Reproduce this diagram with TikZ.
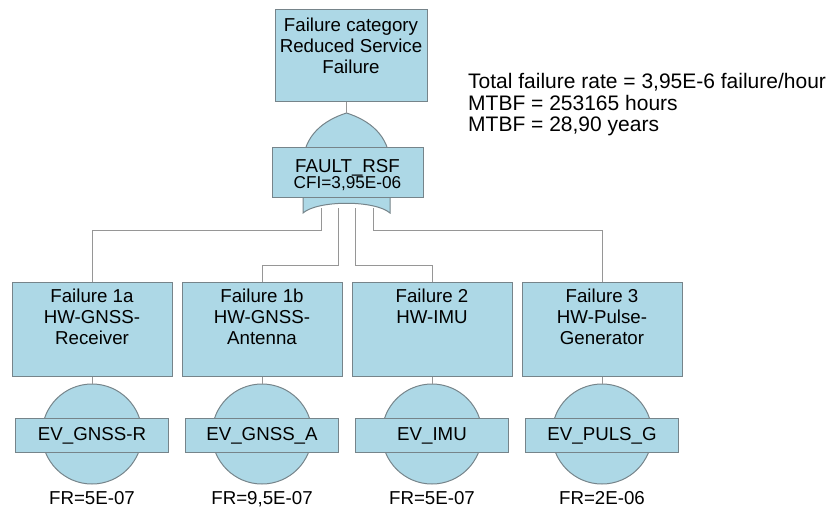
\documentclass[tikz,border=0pt]{standalone}
\usepackage{fontspec}
\setmainfont{Liberation Sans}
\usetikzlibrary{calc}
\definecolor{fillblue}{RGB}{173,216,230}
\definecolor{edgegray}{RGB}{118,132,138}
\definecolor{linegray}{RGB}{150,150,150}
\newcommand\fbtext{\fontsize{18.7pt}{21pt}\selectfont}
\newcommand\fctext{\fontsize{17.2pt}{18pt}\selectfont}
\newcommand\fttext{\fontsize{21pt}{21.4pt}\selectfont}
\begin{document}
\begin{tikzpicture}[x=1pt,y=-1pt,
  fbox/.style={draw=edgegray, fill=fillblue, line width=1pt, minimum width=160pt, minimum height=94pt, inner sep=0pt},
  btxt/.style={align=center, inner sep=0pt, font=\fbtext, anchor=north},
  evcirc/.style={circle, draw=edgegray, fill=fillblue, line width=1pt, minimum size=100pt, inner sep=0pt},
  evbox/.style={draw=edgegray, fill=fillblue, line width=1pt, minimum width=153pt, minimum height=34pt, inner sep=0pt, text height=13.4pt, text depth=3.4pt, font=\fbtext},
  frtxt/.style={inner sep=0pt, anchor=base, font=\fbtext},
  conn/.style={draw=linegray, line width=1pt},
  gatestyle/.style={draw=edgegray, fill=fillblue, line width=1pt}]
\useasboundingbox (0,0) rectangle (834,508);

% gate coordinates
\coordinate (gtop) at (346.5,113);
\coordinate (go1) at (321.7,208);
\coordinate (go2) at (338.3,208);
\coordinate (go3) at (355,208);
\coordinate (go4) at (373.3,208);
\coordinate (k1) at (92,230);
\coordinate (k2) at (262,265);
\coordinate (k3) at (432,265);
\coordinate (k4) at (602,230);

% failure boxes
\node[fbox] (f1a) at (92,329) {};
\node[fbox] (f1b) at (262,329) {};
\node[fbox] (f2) at (432,329) {};
\node[fbox] (f3) at (602,329) {};

% connectors from gate to boxes
\draw[conn] (go1) |- (k1) -- (f1a.north);
\draw[conn] (go2) |- (k2) -- (f1b.north);
\draw[conn] (go3) |- (k3) -- (f2.north);
\draw[conn] (go4) |- (k4) -- (f3.north);

% OR gate
\draw[gatestyle] (gtop) .. controls (324.5,120) and (303,135) .. (303,165) -- (303,213)
  .. controls (318,200) and (375,200) .. (390,213) -- (390,165)
  .. controls (390,135) and (368.5,120) .. (gtop) -- cycle;
\node[draw=edgegray, fill=fillblue, line width=1pt, minimum width=151pt, minimum height=50pt, inner sep=0pt] (rsf) at (347.5,172) {};
\node[inner sep=0pt, anchor=base, font=\fbtext] (rsfn) at (347.5,172.7) {FAULT\_RSF};
\node[inner sep=0pt, anchor=base, font=\fctext] (rsfc) at (347.5,188.5) {CFI=3,95E-06};

% top box
\node[draw=edgegray, fill=fillblue, line width=1pt, minimum width=152pt, minimum height=92pt, inner sep=0pt] (top) at (351,56) {};
\node[btxt] (ttop) at ([yshift=-8.5pt]top.north) {Failure category\\Reduced Service\\Failure};
\draw[conn] (top.south -| gtop) -- (gtop);

% box texts
\node[btxt] (t1a) at ([yshift=-7.5pt]f1a.north) {Failure 1a\\HW-GNSS-\\Receiver};
\node[btxt] (t1b) at ([yshift=-7.5pt]f1b.north) {Failure 1b\\HW-GNSS-\\Antenna};
\node[btxt] (t2) at ([yshift=-7.5pt]f2.north) {Failure 2\\HW-IMU};
\node[btxt] (t3) at ([yshift=-7.5pt]f3.north) {Failure 3\\HW-Pulse-\\Generator};

% events
\node[evcirc] (c1) at (92,434) {};
\node[evcirc] (c2) at (262,434) {};
\node[evcirc] (c3) at (432,434) {};
\node[evcirc] (c4) at (602,434) {};
\draw[conn] (f1a.south) -- (c1.north);
\draw[conn] (f1b.south) -- (c2.north);
\draw[conn] (f2.south) -- (c3.north);
\draw[conn] (f3.south) -- (c4.north);
\node[evbox] (e1) at (92,435) {EV\_GNSS-R};
\node[evbox] (e2) at (262,435) {EV\_GNSS\_A};
\node[evbox] (e3) at (432,435) {EV\_IMU};
\node[evbox] (e4) at (602,435) {EV\_PULS\_G};

\node[frtxt] (r1) at (92,504.5) {FR=5E-07};
\node[frtxt] (r2) at (262,504.5) {FR=9,5E-07};
\node[frtxt] (r3) at (432,504.5) {FR=5E-07};
\node[frtxt] (r4) at (602,504.5) {FR=2E-06};

% summary text
\node[inner sep=0pt, anchor=north west, align=left, font=\fttext] (sum) at (468,73.5) {Total failure rate = 3,95E-6 failure/hour\\MTBF = 253165 hours\\MTBF = 28,90 years};
\end{tikzpicture}
\end{document}
